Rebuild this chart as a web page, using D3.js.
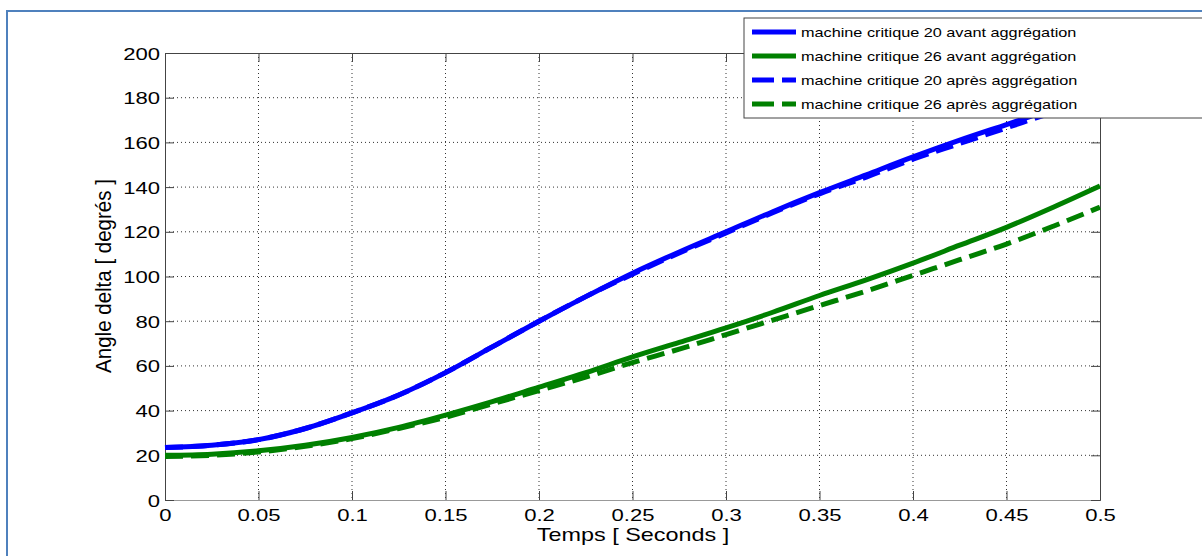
<!DOCTYPE html>
<html>
<head>
<meta charset="utf-8">
<script src="https://cdn.jsdelivr.net/npm/d3@7"></script>
<style>
  body { margin: 0; background: #fff; }
  text { font-family: "Liberation Sans", Arial, sans-serif; }
</style>
</head>
<body>
<div class="chart"></div>
<script>
var temps = [0, 0.025, 0.05, 0.075, 0.1, 0.125, 0.15, 0.175, 0.2, 0.225, 0.25,
  0.275, 0.3, 0.325, 0.35, 0.375, 0.4, 0.425, 0.45, 0.475, 0.5];

var m20Avant = [23.5, 24.5, 27, 32, 39, 47, 57, 68.5, 80, 91, 101.5,
  111, 120, 129, 137.5, 145.5, 153.5, 161, 168, 175, 182];
var m26Avant = [20, 20.5, 22, 24.5, 28, 32.5, 38, 44, 50.5, 57, 64,
  70.5, 77, 84, 91.5, 98.5, 106, 114, 122, 131, 140.5];
var m20Apres = [23.5, 24.5, 27, 32, 39, 47, 57, 68.5, 80, 91, 101,
  110.5, 119.5, 128.5, 137, 144.5, 152.5, 159.5, 166.5, 173.5, 180];
var m26Apres = [19.5, 20, 21.5, 24, 27.5, 32, 37, 43, 49, 55, 61.5,
  67.5, 74, 80.5, 87, 93.5, 100.5, 107.5, 114.5, 122.5, 131];

var xTicks = [0, 0.05, 0.1, 0.15, 0.2, 0.25, 0.3, 0.35, 0.4, 0.45, 0.5];
var yTicks = [0, 20, 40, 60, 80, 100, 120, 140, 160, 180, 200];

var legendLabels = [
  'machine critique 20 avant aggrégation',
  'machine critique 26 avant aggrégation',
  'machine critique 20 après aggrégation',
  'machine critique 26 après aggrégation'
];

var series = [
  { values: m20Avant, color: '#0000ff', dash: null },
  { values: m26Avant, color: '#008000', dash: null },
  { values: m20Apres, color: '#0000ff', dash: '18,8' },
  { values: m26Apres, color: '#008000', dash: '18,8' }
];

// text in the picture is stretched sideways
var sx = 1.3;

var margin = { top: 53, left: 165 };
var width = 1100 - 165;
var height = 500 - 53;

var root = d3.select('.chart')
  .append('svg')
    .attr('width', 1202)
    .attr('height', 556);

// outer frame (blue)
root.append('rect')
  .attr('x', 7).attr('y', 11)
  .attr('width', 1220).attr('height', 580)
  .attr('fill', 'none')
  .attr('stroke', '#4f81bd')
  .attr('stroke-width', 2);

var svg = root.append('g')
  .attr('transform', `translate(${margin.left}, ${margin.top})`);

var xScale = d3.scaleLinear().domain([0, 0.5]).range([0, width]);
var yScale = d3.scaleLinear().domain([0, 200]).range([height, 0]);

// grid
svg.selectAll('.gx')
  .data(xTicks.slice(1, -1))
  .enter().append('line')
  .attr('x1', d => xScale(d)).attr('x2', d => xScale(d))
  .attr('y1', 0).attr('y2', height)
  .attr('stroke', '#333').attr('stroke-width', 1)
  .attr('stroke-dasharray', '1,3');

svg.selectAll('.gy')
  .data(yTicks.slice(1, -1))
  .enter().append('line')
  .attr('x1', 0).attr('x2', width)
  .attr('y1', d => yScale(d)).attr('y2', d => yScale(d))
  .attr('stroke', '#333').attr('stroke-width', 1)
  .attr('stroke-dasharray', '1,3');

// axes (inward ticks, MATLAB style)
var xAxis = d3.axisBottom(xScale).tickValues(xTicks).tickSize(-9)
  .tickFormat(d => String(d));
var yAxis = d3.axisLeft(yScale).tickValues(yTicks).tickSize(-9)
  .tickFormat(d => String(d));

var gx = svg.append('g')
  .attr('class', 'xaxis')
  .attr('transform', `translate(0, ${height})`)
  .call(xAxis);
var gy = svg.append('g').attr('class', 'yaxis').call(yAxis);

svg.append('g').attr('transform', `translate(${width}, 0)`)
  .call(d3.axisRight(yScale).tickValues(yTicks).tickSize(-9).tickFormat(''));
svg.append('g')
  .call(d3.axisTop(xScale).tickValues(xTicks).tickSize(-9).tickFormat(''));

svg.selectAll('.domain').attr('stroke', '#444');
svg.selectAll('.tick line').attr('stroke', '#444');
gx.select('.domain').attr('stroke', '#999');

svg.selectAll('.xaxis .tick text, .yaxis .tick text')
  .attr('fill', '#000')
  .style('font-size', '17px')
  .style('font-family', '"Liberation Sans", Arial, sans-serif');

gy.selectAll('.tick text')
  .attr('x', null).attr('dy', null)
  .attr('transform', `translate(-5, 6) scale(${sx}, 1)`);
gx.selectAll('.tick text')
  .attr('y', null).attr('dy', null)
  .attr('transform', `translate(0, 21) scale(${sx}, 1)`);

// curves
var line = d3.line()
  .x((d, i) => xScale(temps[i]))
  .y(d => yScale(d))
  .curve(d3.curveMonotoneX);

svg.selectAll('.serie')
  .data(series)
  .enter().append('path')
  .attr('d', d => line(d.values))
  .attr('fill', 'none')
  .attr('stroke', d => d.color)
  .attr('stroke-width', 5)
  .attr('stroke-dasharray', d => d.dash);

// axis labels
root.append('text')
  .attr('transform', `translate(633, 541) scale(${sx}, 1)`)
  .attr('text-anchor', 'middle')
  .style('font-size', '18px')
  .text('Temps [ Seconds ]');

root.append('text')
  .attr('transform', 'translate(111, 276) rotate(-90) scale(1.14, 1.25)')
  .attr('text-anchor', 'middle')
  .style('font-size', '18px')
  .text('Angle delta [ degrés ]');

// legend
var legend = root.append('g').attr('transform', 'translate(744, 18)');
legend.append('rect')
  .attr('x', 0).attr('y', 0)
  .attr('width', 500).attr('height', 100)
  .attr('fill', '#fff')
  .attr('stroke', '#444').attr('stroke-width', 1);

var item = legend.selectAll('.item')
  .data(series)
  .enter().append('g')
  .attr('transform', (d, i) => `translate(0, ${14 + i * 24})`);

item.append('line')
  .attr('x1', 8).attr('x2', 52)
  .attr('stroke', d => d.color)
  .attr('stroke-width', 5)
  .attr('stroke-dasharray', d => d.dash ? '22,8' : null);

item.append('text')
  .attr('transform', `translate(57, 5) scale(1.25, 1)`)
  .style('font-size', '13px')
  .text((d, i) => legendLabels[i]);
</script>
</body>
</html>
